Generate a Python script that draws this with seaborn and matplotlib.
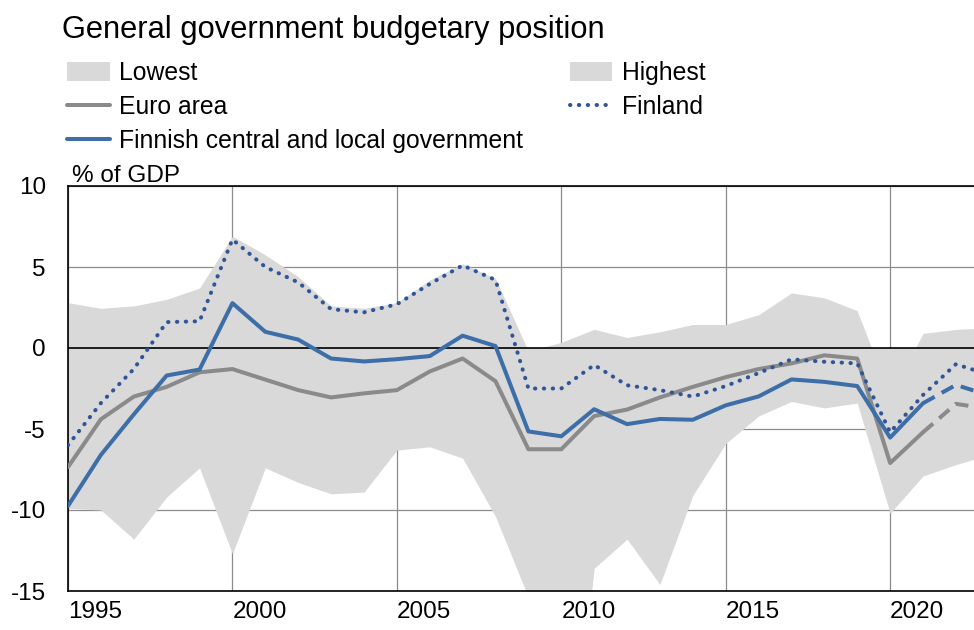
import matplotlib
matplotlib.use('Agg')
import pandas as pd
import matplotlib.pyplot as plt
from matplotlib.patches import Patch
from matplotlib.lines import Line2D
import seaborn as sns; sns.set_style('white')

plt.rcParams['font.family'] = ['Liberation Sans', 'DejaVu Sans']
plt.rcParams['axes.unicode_minus'] = False
plt.rcParams['text.color'] = 'black'

# % of GDP
years = list(range(1995, 2024))
lowest = [-9.9, -10.0, -11.8, -9.2, -7.4, -12.7, -7.4, -8.3, -9.0, -8.9,
          -6.3, -6.1, -6.8, -10.4, -15.4, -32.0, -13.6, -11.8, -14.6, -9.1,
          -5.9, -4.2, -3.3, -3.7, -3.4, -10.2, -7.9, -7.2, -6.6]
highest = [2.8, 2.45, 2.6, 3.0, 3.7, 6.9, 5.75, 4.4, 2.6, 2.45,
           2.8, 4.2, 5.2, 4.3, -0.2, 0.35, 1.15, 0.65, 1.0, 1.45,
           1.45, 2.05, 3.4, 3.1, 2.3, -3.0, 0.9, 1.15, 1.25]
euro_area = [-7.35, -4.4, -3.0, -2.4, -1.5, -1.3, -1.95, -2.6, -3.05, -2.8,
             -2.6, -1.45, -0.65, -2.05, -6.25, -6.25, -4.2, -3.8, -3.05, -2.4,
             -1.8, -1.3, -0.95, -0.45, -0.65, -7.1, -5.2, -3.45, -3.75]
finland = [-6.0, -3.4, -1.3, 1.6, 1.65, 6.7, 5.0, 4.05, 2.4, 2.2,
           2.7, 3.95, 5.1, 4.2, -2.5, -2.5, -1.05, -2.3, -2.6, -3.0,
           -2.35, -1.55, -0.7, -0.85, -0.95, -5.2, -2.9, -1.0, -1.65]
central_local = [-9.75, -6.6, -4.1, -1.7, -1.33, 2.77, 1.0, 0.52, -0.65, -0.83,
                 -0.69, -0.5, 0.76, 0.12, -5.15, -5.45, -3.78, -4.7, -4.38, -4.43,
                 -3.54, -2.99, -1.94, -2.09, -2.35, -5.53, -3.41, -2.28, -2.92]
last_actual = 2021  # forecast (dashed) from here on

df = pd.DataFrame({'year': years, 'Lowest': lowest, 'Highest': highest,
                   'Euro area': euro_area, 'Finland': finland,
                   'Central and local': central_local})
actual = df[df['year'] <= last_actual]
forecast = df[df['year'] >= last_actual]

band = '#d9d9d9'
grey = '#8a8a8a'
blue = '#3d6ea8'
dark_blue = '#2f5597'
lw = 2.9
dotted = (0, (0.1, 2.1))
dashed = (0, (3.3, 2.0))

fig = plt.figure(figsize=(9.74, 6.3), dpi=100)
ax = fig.add_axes([68 / 974, 1 - 591 / 630, 906 / 974, 405 / 630])

ax.fill_between(df['year'], 0, df['Lowest'], color=band, lw=0, zorder=1)
ax.fill_between(df['year'], 0, df['Highest'], color=band, lw=0, zorder=1)
ax.axhline(0, color='black', lw=1.2, zorder=2)

sns.lineplot(data=actual, x='year', y='Euro area', color=grey, lw=lw, ax=ax, zorder=3)
sns.lineplot(data=forecast, x='year', y='Euro area', color=grey, lw=lw, ax=ax, zorder=3,
             linestyle=dashed)
sns.lineplot(data=actual, x='year', y='Central and local', color=blue, lw=lw, ax=ax, zorder=4)
sns.lineplot(data=forecast, x='year', y='Central and local', color=blue, lw=lw, ax=ax, zorder=4,
             linestyle=dashed)
sns.lineplot(data=df, x='year', y='Finland', color=dark_blue, lw=lw, ax=ax, zorder=5,
             linestyle=dotted, dash_capstyle='round')

ax.set_xlim(1995, 2022.55)
ax.set_ylim(-15, 10)
ax.set_xticks(range(1995, 2021, 5))
ax.set_yticks(range(-15, 11, 5))
ax.set_xlabel('')
ax.set_ylabel('')
ax.grid(True, color='#8c8c8c', lw=0.9)
ax.set_axisbelow(True)
ax.tick_params(axis='both', length=0, labelsize=17.5, colors='black')
ax.tick_params(axis='x', pad=7)
ax.tick_params(axis='y', pad=16)
for lbl in ax.get_xticklabels():
    lbl.set_ha('left')
for side in ['left', 'top', 'bottom']:
    ax.spines[side].set_color('black')
    ax.spines[side].set_linewidth(1.2)
ax.spines['right'].set_visible(False)

fig.text(62 / 974, 1 - 38 / 630, 'General government budgetary position',
         fontsize=22.2, va='baseline', ha='left', color='black')
fig.text(72 / 974, 1 - 182 / 630, '% of GDP', fontsize=17.5, va='baseline', ha='left',
         color='black')

handles = [
    Patch(facecolor=band, edgecolor='none', label='Lowest'),
    Line2D([], [], color=grey, lw=lw, label='Euro area'),
    Line2D([], [], color=blue, lw=lw, label='Finnish central and local government'),
    Patch(facecolor=band, edgecolor='none', label='Highest'),
    Line2D([], [], color=dark_blue, lw=lw, linestyle=dotted, dash_capstyle='round',
           label='Finland'),
]
fig.legend(handles=handles, ncol=2, loc='upper left', bbox_to_anchor=(67 / 974, 1 - 61 / 630),
           frameon=False, fontsize=17.8, borderpad=0, borderaxespad=0,
           handlelength=1.72, handleheight=0.78, handletextpad=0.4,
           labelspacing=0.41, columnspacing=1.88, labelcolor='black')

fig.savefig('out.png', dpi=100)
